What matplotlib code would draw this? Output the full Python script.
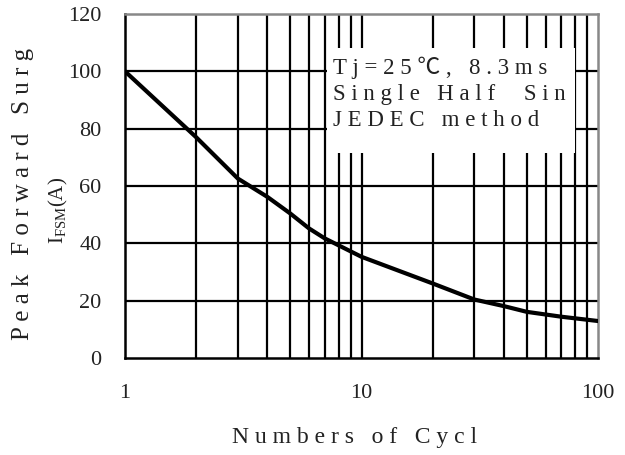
import matplotlib
matplotlib.use("Agg")
import matplotlib.pyplot as plt
from matplotlib.patches import Rectangle

cycles = [1, 2, 3, 4, 5, 6, 7, 10, 20, 30, 40, 50, 70, 100]
current = [100, 77, 62.6, 56.2, 50.4, 45.2, 41.7, 35.3, 26, 20.4, 18.1, 16.1, 14.4, 12.9]
x_ticks = [1, 10, 100]
x_ticklabels = ["1", "10", "100"]
y_ticks = [0, 20, 40, 60, 80, 100, 120]
grid_x = [2, 3, 4, 5, 6, 7, 8, 9, 10, 20, 30, 40, 50, 60, 70, 80, 90]
grid_y = [20, 40, 60, 80, 100]
note_lines = ["T j = 2 5 ℃ ,   8 . 3 m s", "S i n g l e   H a l f     S i n", "J E D E C   m e t h o d"]

plt.rcParams['font.family'] = ['Liberation Serif', 'Noto Sans CJK JP', 'DejaVu Sans']
plt.rcParams['mathtext.fontset'] = 'custom'
plt.rcParams['mathtext.rm'] = 'Liberation Serif'

fig = plt.figure(figsize=(6.25, 4.55), dpi=100)
ax = fig.add_axes([125/625, 1-358/455, 473/625, 344/455])
ax.set_xscale('log')
ax.set_xlim(1, 100)
ax.set_ylim(0, 120)

for gx in grid_x:
    ax.axvline(gx, color='black', lw=1.6, zorder=1)
for gy in grid_y:
    ax.axhline(gy, color='black', lw=1.6, zorder=1)

# white note box
ax.add_patch(Rectangle((0.427, 0.596), 0.524, 0.305, transform=ax.transAxes,
                       facecolor='white', edgecolor='none', zorder=2))
ax.text(0.44, 0.875, "\n".join(note_lines), transform=ax.transAxes, ha='left', va='top',
        fontsize=16.5, linespacing=1.3, color='#222222', zorder=3,
        family=['Liberation Serif', 'Noto Sans CJK JP', 'DejaVu Sans'])

ax.plot(cycles, current, color='black', lw=3, zorder=4, solid_joinstyle='round')

ax.set_xticks(x_ticks)
ax.set_xticklabels(x_ticklabels)
ax.xaxis.set_minor_locator(matplotlib.ticker.NullLocator())
ax.set_yticks(y_ticks)
ax.tick_params(length=0, labelsize=16, colors='#222222')
ax.tick_params(axis='x', pad=19)
ax.tick_params(axis='y', pad=17)

for s in ['left', 'bottom']:
    ax.spines[s].set_linewidth(1.8)
    ax.spines[s].set_color('black')
for s in ['top', 'right']:
    ax.spines[s].set_linewidth(1.8)
    ax.spines[s].set_color('#888888')

fig.text(23/625, 1-340/455, "P e a k   F o r w a r d   S u r g", rotation=90,
         ha='center', va='bottom', fontsize=18, color='#222222')
fig.text(58/625, 1-210/455, r"$\mathrm{I}_{\mathrm{FSM}}$(A)", rotation=90,
         ha='center', va='center', fontsize=15, color='#222222')
fig.text(355/625, 1-437/455, "N u m b e r s   o f   C y c l", ha='center', va='center',
         fontsize=17, color='#222222')

fig.savefig("out.png", dpi=100)
